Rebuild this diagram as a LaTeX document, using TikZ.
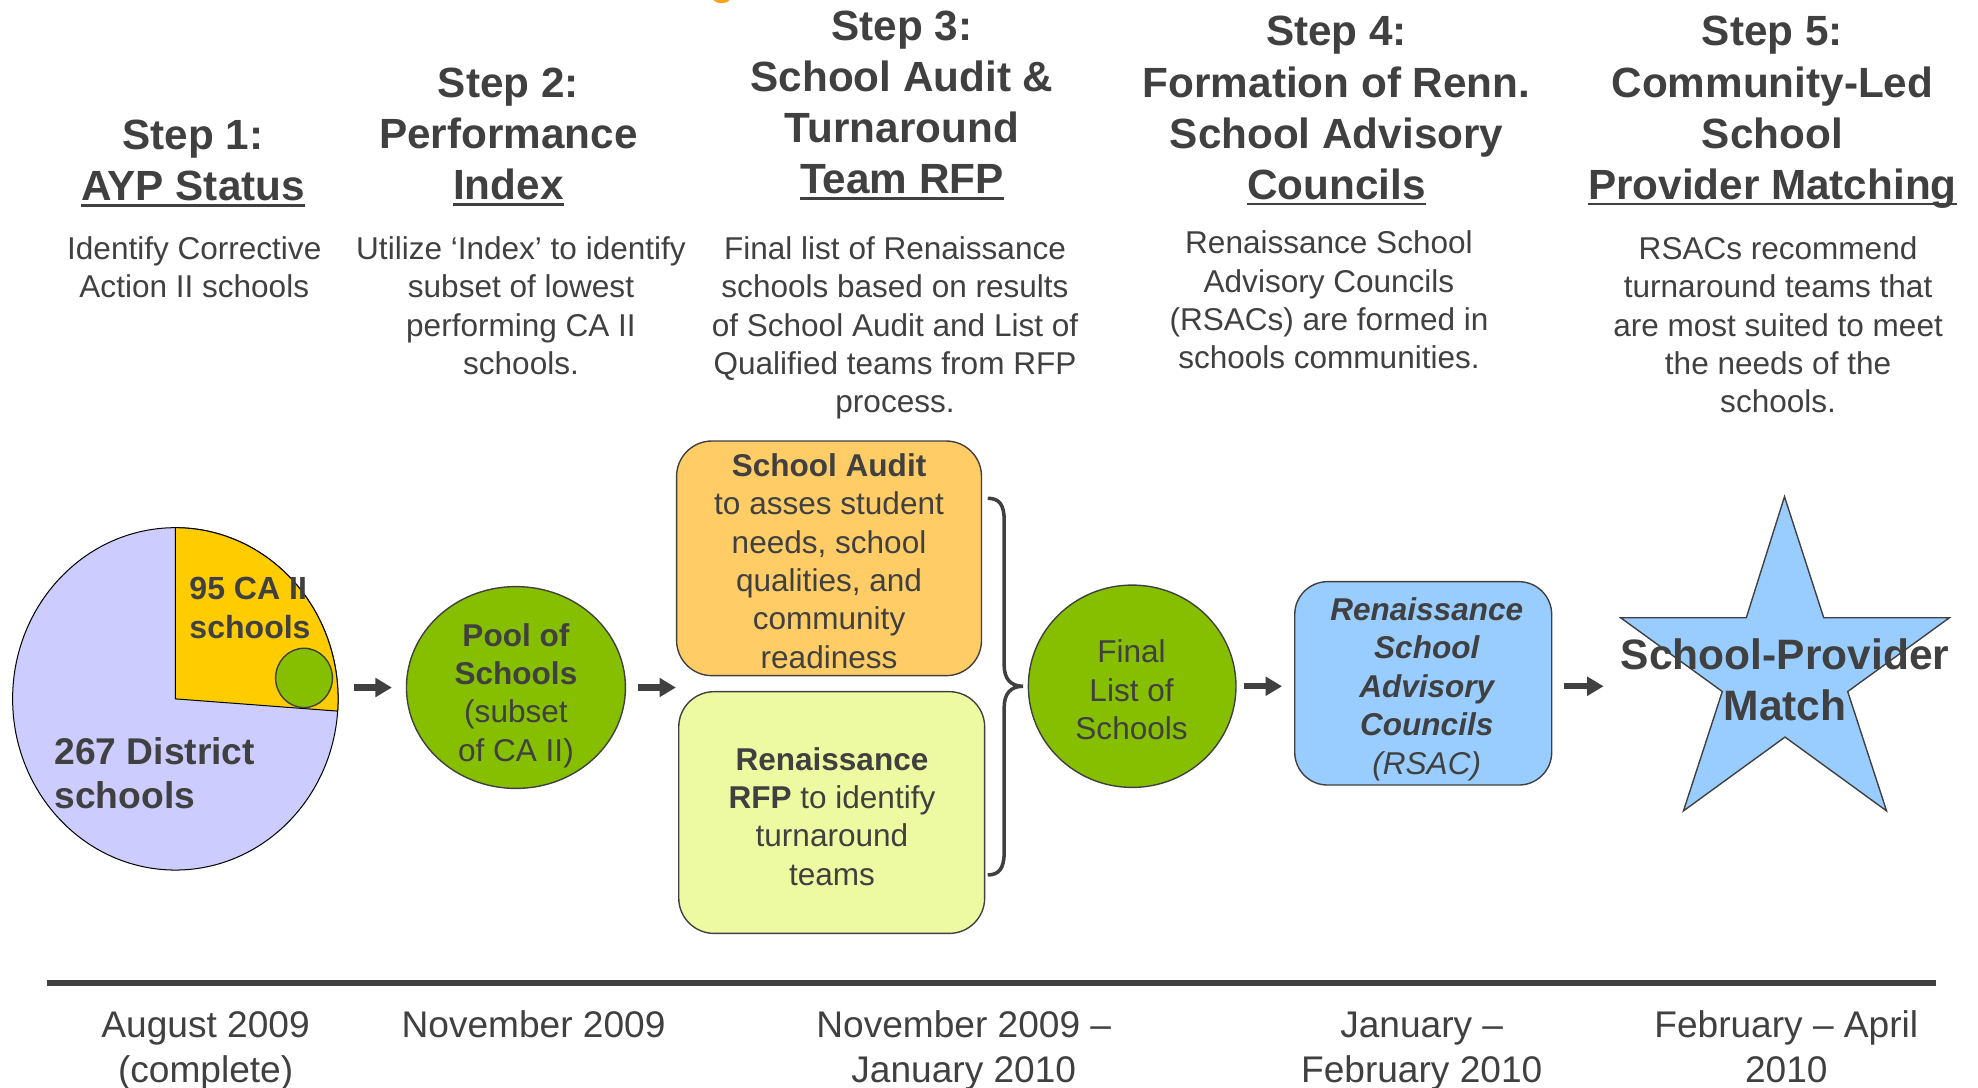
\documentclass[tikz,border=0pt]{standalone}
\usepackage{fontspec}
\setmainfont{Liberation Sans}
\usetikzlibrary{arrows.meta,shapes.geometric}
\definecolor{tc}{HTML}{404040}
\definecolor{lav}{HTML}{CCCCFF}
\definecolor{yel}{HTML}{FFCC00}
\definecolor{grn}{HTML}{86BE00}
\definecolor{org}{HTML}{FFCC66}
\definecolor{lym}{HTML}{EEFAA2}
\definecolor{blu}{HTML}{99CCFF}
\definecolor{dotc}{HTML}{F7A21B}
\newcommand{\fl}{\rule{0pt}{0.76em}}
\newcommand{\ulx}[1]{\setbox0=\hbox{#1}\rlap{\rule[-0.145em]{\wd0}{0.065em}}\box0}
\tikzset{
  head/.style={font=\fontsize{33.5}{40.5}\selectfont\bfseries, align=center, text=tc, inner sep=0pt, anchor=north},
  body/.style={font=\fontsize{25}{30.4}\selectfont, align=center, text=tc, inner sep=0pt, anchor=north},
  datet/.style={font=\fontsize{29.4}{36}\selectfont, align=center, text=tc, inner sep=0pt, anchor=north},
  shp/.style={draw=tc, line width=1.1pt, inner sep=0pt},
  oval/.style={shp, ellipse, fill=grn},
  rbox/.style={shp, rectangle, rounded corners=28pt},
  arr/.style={draw=tc, line width=5pt, -{Triangle[length=13pt 0 0, width=14.5pt 0 0]}},
}
\begin{document}
\begin{tikzpicture}[x=1pt,y=-1pt]
\useasboundingbox (0,0) rectangle (1568,862);
% small orange mark at top edge
\fill[dotc] (572,-2.5) ellipse [x radius=7.5, y radius=5];

% headings
\node[head] (h1) at (153,93) {\fl Step 1:\\\ulx{AYP Status}};
\node[head] (h2) at (403,51.5) {\fl Step 2:\\Performance\\\ulx{Index}};
\node[head] (h3) at (715,6.5) {\fl Step 3:\\School Audit \&\\Turnaround\\\ulx{Team RFP}};
\node[head] (h4) at (1059.5,10.8) {\fl Step 4:\\Formation of Renn.\\School Advisory\\\ulx{Councils}};
\node[head] (h5) at (1405,10.8) {\fl Step 5:\\Community-Led\\School\\\ulx{Provider Matching}};

% descriptions
\node[body] (b1) at (154,186.5) {\fl Identify Corrective\\Action II schools};
\node[body] (b2) at (413,186.5) {\fl Utilize ‘Index’ to identify\\subset of lowest\\performing CA II\\schools.};
\node[body] (b3) at (709.5,186.5) {\fl Final list of Renaissance\\schools based on results\\of School Audit and List of\\Qualified teams from RFP\\process.};
\node[body] (b4) at (1053.5,182) {\fl Renaissance School\\Advisory Councils\\(RSACs) are formed in\\schools communities.};
\node[body] (b5) at (1409.5,186.5) {\fl RSACs recommend\\turnaround teams that\\are most suited to meet\\the needs of the\\schools.};

% pie
\node[ellipse, draw=black, line width=0.8pt, fill=lav, minimum width=258pt, minimum height=271.4pt, inner sep=0pt] (pie) at (139,554) {};
\filldraw[fill=yel, draw=black, line width=0.8pt] (pie.center) -- ++(0,-135.7) arc[start angle=-90, end angle=4.1, x radius=129, y radius=135.7] -- cycle;
\node[shp, ellipse, fill=grn, minimum width=45pt, minimum height=47pt] (dot) at (241,537.4) {};
\node[font=\fontsize{25.4}{30.6}\selectfont\bfseries, text=tc, align=left, anchor=north west, inner sep=0pt] (ca) at (150,456) {\fl 95 CA II\\schools};
\node[font=\fontsize{29.5}{34.8}\selectfont\bfseries, text=tc, align=left, anchor=north west, inner sep=0pt] (dist) at (43,583.4) {\fl 267 District\\schools};

% pool
\node[oval, minimum width=173.6pt, minimum height=160pt] (pool) at (409,545) {};
\node[body] (poolt) at (409,493) {\fl\textbf{Pool of}\\\textbf{Schools}\\(subset\\of CA II)};

% audit and RFP boxes
\node[rbox, fill=org, minimum width=241.7pt, minimum height=186pt] (audit) at (657.2,442.6) {};
\node[body] (auditt) at (657.2,358.5) {\fl\textbf{School Audit}\\to asses student\\needs, school\\qualities, and\\community\\readiness};
\node[rbox, fill=lym, minimum width=242.5pt, minimum height=191.6pt] (rfp) at (659.3,644.1) {};
\node[body] (rfpt) at (659.5,591.3) {\fl\textbf{Renaissance}\\\textbf{RFP} to identify\\turnaround\\teams};

% brace
\draw[draw=tc, line width=2.8pt] (783,395) .. controls (792,395) and (796,400) .. (796,412) -- (796,527) .. controls (796,538) and (801,544) .. (811,544) .. controls (801,544) and (796,550) .. (796,561) -- (796,676) .. controls (796,688) and (792,693.6) .. (783,693.6);

% final list
\node[oval, minimum width=164.6pt, minimum height=160.4pt] (final) at (897.5,544) {};
\node[body] (finalt) at (897,506.3) {\fl Final\\List of\\Schools};

% RSAC
\node[rbox, fill=blu, rounded corners=26pt, minimum width=203.7pt, minimum height=161.2pt] (rsac) at (1128.2,541.7) {};
\node[body, font=\fontsize{25}{30.5}\selectfont\itshape] (rsact) at (1131,472.4) {\fl\textbf{Renaissance}\\\textbf{School}\\\textbf{Advisory}\\\textbf{Councils}\\(RSAC)};

% star
\filldraw[fill=blu, draw=tc, line width=1.1pt] (1414.6,393.7) -- (1445.7,489.7) -- (1545.3,489.7) -- (1464.7,548.2) -- (1495.5,642.8) -- (1415,584.3) -- (1334.5,642.8) -- (1365.3,548.2) -- (1284.7,489.7) -- (1384.3,489.7) -- cycle;
\coordinate (starL) at (1284.7,489.7);
\node[font=\fontsize{33.7}{40.2}\selectfont\bfseries, align=center, text=tc, anchor=north, inner sep=0pt] (startext) at (1415,504.9) {\fl School-Provider\\Match};

% arrows
\draw[arr, shorten <=12pt, shorten >=11pt] (pie.east |- pool.west) -- (pool.west);
\draw[arr, shorten <=9.6pt] (pool.east) -- (pool.east -| audit.west);
\draw[arr, shorten <=6pt, shorten >=9.5pt] (final.east) -- (final.east -| rsac.west);
\draw[arr, shorten <=9pt, shorten >=13.5pt] (final.east -| rsac.east) -- (final.east -| starL);

% timeline
\coordinate (tl1) at (37,779);
\coordinate (tl2) at (1535,779);
\draw[draw=tc, line width=4.5pt] (tl1) -- (tl2);

% dates
\node[datet] (d1) at (163,799.7) {\fl August 2009\\(complete)};
\node[datet] (d2) at (423,799.7) {\fl November 2009};
\node[datet] (d3) at (764,799.7) {\fl November 2009 --\\January 2010};
\node[datet] (d4) at (1127,799.7) {\fl January --\\February 2010};
\node[datet] (d5) at (1416,799.7) {\fl February -- April\\2010};
\end{tikzpicture}
\end{document}
